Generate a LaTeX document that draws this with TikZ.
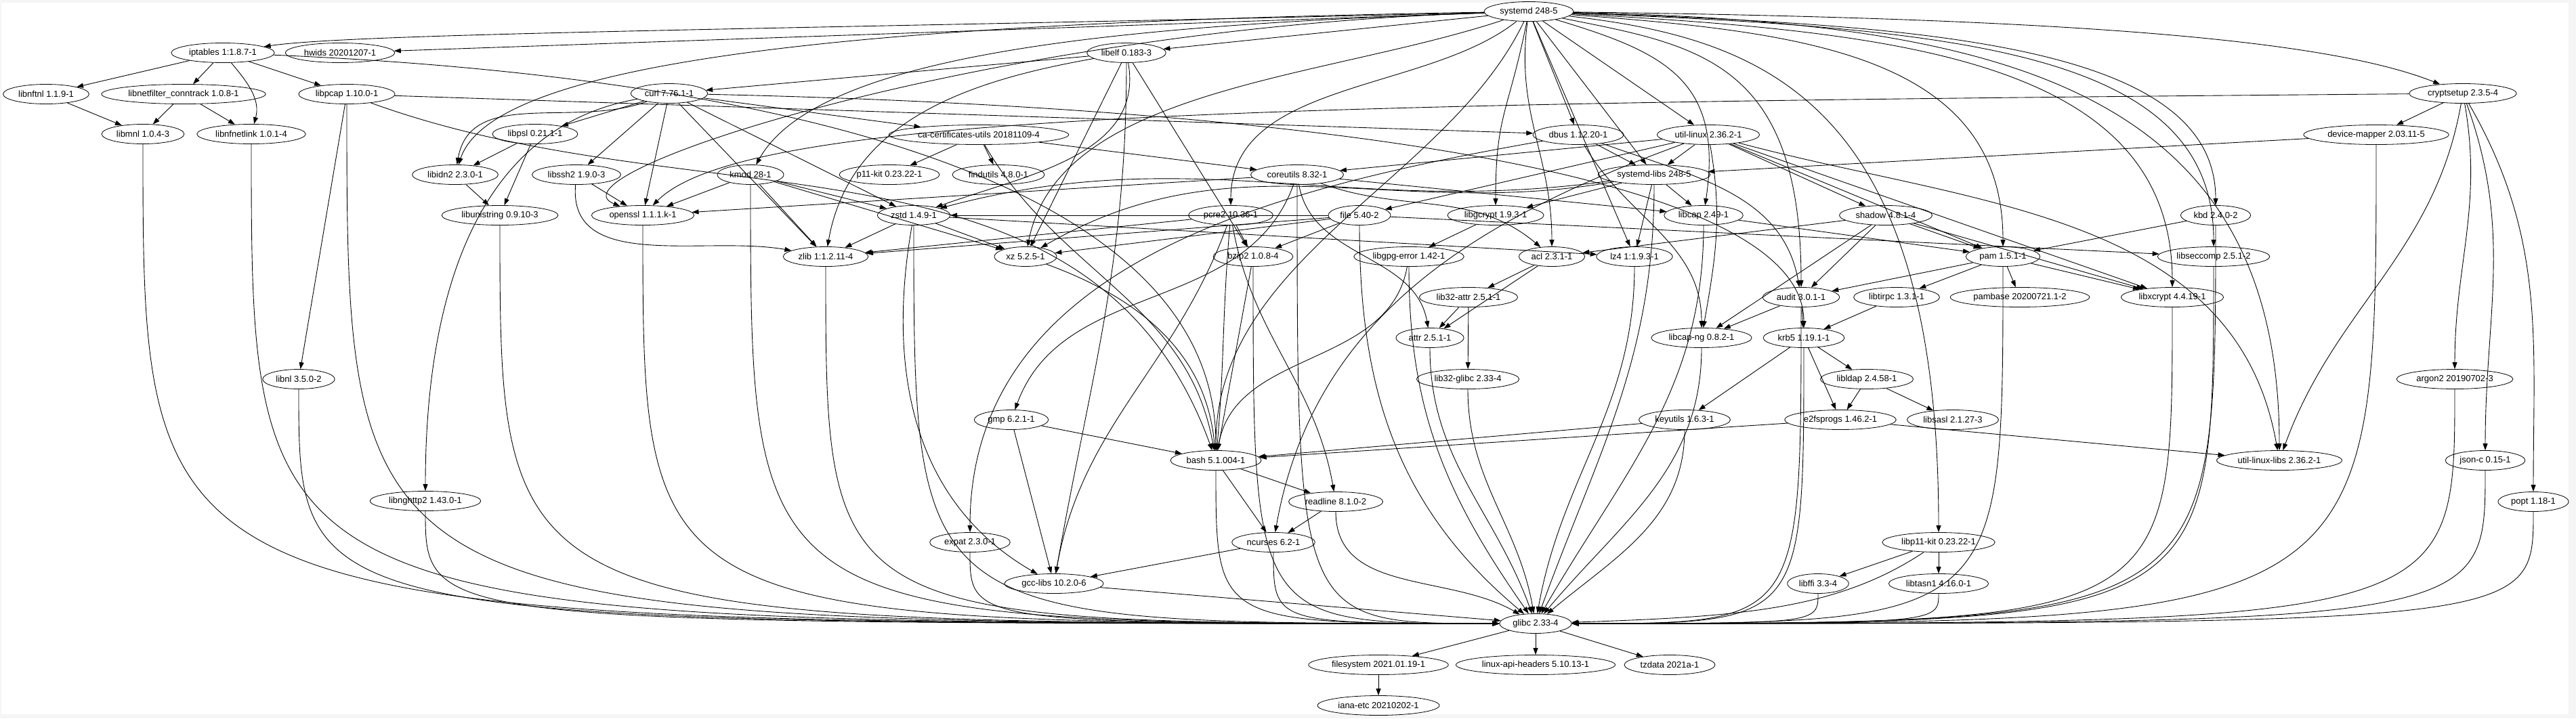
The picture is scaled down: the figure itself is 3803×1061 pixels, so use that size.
\documentclass[tikz,border=0pt]{standalone}
\usepackage{fontspec}
\setmainfont{Liberation Sans}
\usetikzlibrary{arrows.meta, shapes.geometric}
\newcommand{\pkgfont}{\fontsize{3.25}{4}\selectfont}
\tikzset{
  pkg/.style={ellipse, draw, line width=0.2pt, inner xsep=1pt, inner ysep=0.25pt,
    minimum height=7.25pt, font=\pkgfont},
  dep/.style={draw, line width=0.22pt, -{Triangle[length=2.5pt,width=1.75pt]}}
}
\begin{document}
\begin{tikzpicture}[x=0.25pt, y=0.25pt]
    \useasboundingbox (0,0) rectangle (3803,-1061);
    \fill[gray!8] (0,0) rectangle (3803,-1061);
    \fill[white] (2,-4) rectangle (3792,-1055);

    % packages, one row per rank
    \node[pkg] (systemd)      at (2257,-17)  {systemd 248-5};
    \node[pkg] (iptables)     at (329,-78)   {iptables 1:1.8.7-1};
    \node[pkg] (hwids)        at (502,-78)   {hwids 20201207-1};
    \node[pkg] (libelf)       at (1663,-78)  {libelf 0.183-3};
    \node[pkg] (libnftnl)     at (68,-139)   {libnftnl 1.1.9-1};
    \node[pkg] (libnetfilter) at (271,-139)  {libnetfilter\_conntrack 1.0.8-1};
    \node[pkg] (libpcap)      at (512,-139)  {libpcap 1.10.0-1};
    \node[pkg] (curl)         at (988,-138)  {curl 7.76.1-1};
    \node[pkg] (cryptsetup)   at (3636,-138) {cryptsetup 2.3.5-4};
    \node[pkg] (libmnl)       at (211,-198)  {libmnl 1.0.4-3};
    \node[pkg] (libnfnetlink) at (371,-198)  {libnfnetlink 1.0.1-4};
    \node[pkg] (libpsl)       at (790,-198)  {libpsl 0.21.1-1};
    \node[pkg] (cacerts)      at (1445,-199) {ca-certificates-utils 20181109-4};
    \node[pkg] (dbus)         at (2330,-199) {dbus 1.12.20-1};
    \node[pkg] (utillinux)    at (2522,-199) {util-linux 2.36.2-1};
    \node[pkg] (devmapper)    at (3508,-199) {device-mapper 2.03.11-5};
    \node[pkg] (libidn)       at (672,-258)  {libidn2 2.3.0-1};
    \node[pkg] (libssh)       at (851,-258)  {libssh2 1.9.0-3};
    \node[pkg] (kmod)         at (1108,-258) {kmod 28-1};
    \node[pkg] (pkit)         at (1313,-258) {p11-kit 0.23.22-1};
    \node[pkg] (findutils)    at (1474,-258) {findutils 4.8.0-1};
    \node[pkg] (coreutils)    at (1915,-258) {coreutils 8.32-1};
    \node[pkg] (sdlibs)       at (2442,-258) {systemd-libs 248-5};
    \node[pkg] (libunistring) at (738,-318)  {libunistring 0.9.10-3};
    \node[pkg] (openssl)      at (949,-318)  {openssl 1.1.1.k-1};
    \node[pkg] (zstd)         at (1349,-318) {zstd 1.4.9-1};
    \node[pkg] (pcre)         at (1817,-318) {pcre2 10.36-1};
    \node[pkg] (file)         at (2007,-318) {file 5.40-2};
    \node[pkg] (libgcrypt)    at (2208,-318) {libgcrypt 1.9.3-1};
    \node[pkg] (libcap)       at (2515,-318) {libcap 2.49-1};
    \node[pkg] (shadow)       at (2784,-318) {shadow 4.8.1-4};
    \node[pkg] (kbd)          at (3271,-318) {kbd 2.4.0-2};
    \node[pkg] (zlib)         at (1219,-379) {zlib 1:1.2.11-4};
    \node[pkg] (xz)           at (1514,-379) {xz 5.2.5-1};
    \node[pkg] (bzip)         at (1850,-379) {bzip2 1.0.8-4};
    \node[pkg] (gpgerror)     at (2080,-379) {libgpg-error 1.42-1};
    \node[pkg] (acl)          at (2291,-379) {acl 2.3.1-1};
    \node[pkg] (lz)           at (2413,-379) {lz4 1:1.9.3-1};
    \node[pkg] (pam)          at (2957,-379) {pam 1.5.1-1};
    \node[pkg] (libseccomp)   at (3268,-379) {libseccomp 2.5.1-2};
    \node[pkg] (libattr32)    at (2168,-439) {lib32-attr 2.5.1-1};
    \node[pkg] (audit)        at (2659,-439) {audit 3.0.1-1};
    \node[pkg] (libtirpc)     at (2800,-439) {libtirpc 1.3.1-1};
    \node[pkg] (pambase)      at (2982,-439) {pambase 20200721.1-2};
    \node[pkg] (libxcrypt)    at (3207,-439) {libxcrypt 4.4.19-1};
    \node[pkg] (attr)         at (2111,-499) {attr 2.5.1-1};
    \node[pkg] (libcapng)     at (2512,-499) {libcap-ng 0.8.2-1};
    \node[pkg] (krb)          at (2663,-499) {krb5 1.19.1-1};
    \node[pkg] (libnl)        at (441,-560)  {libnl 3.5.0-2};
    \node[pkg] (glibc32)      at (2167,-560) {lib32-glibc 2.33-4};
    \node[pkg] (libldap)      at (2756,-560) {libldap 2.4.58-1};
    \node[pkg] (argon)        at (3624,-560) {argon2 20190702-3};
    \node[pkg] (gmp)          at (1493,-620) {gmp 6.2.1-1};
    \node[pkg] (keyutils)     at (2487,-620) {keyutils 1.6.3-1};
    \node[pkg] (efsprogs)     at (2717,-620) {e2fsprogs 1.46.2-1};
    \node[pkg] (libsasl)      at (2883,-620) {libsasl 2.1.27-3};
    \node[pkg] (bash)         at (1795,-680) {bash 5.1.004-1};
    \node[pkg] (ullibs)       at (3365,-680) {util-linux-libs 2.36.2-1};
    \node[pkg] (jsonc)        at (3669,-680) {json-c 0.15-1};
    \node[pkg] (libnghttp)    at (628,-740)  {libnghttp2 1.43.0-1};
    \node[pkg] (readline)     at (1972,-741) {readline 8.1.0-2};
    \node[pkg] (popt)         at (3740,-741) {popt 1.18-1};
    \node[pkg] (expat)        at (1432,-801) {expat 2.3.0-1};
    \node[pkg] (ncurses)      at (1880,-801) {ncurses 6.2-1};
    \node[pkg] (libpkit)      at (2862,-801) {libp11-kit 0.23.22-1};
    \node[pkg] (gcclibs)      at (1556,-862) {gcc-libs 10.2.0-6};
    \node[pkg] (libffi)       at (2684,-862) {libffi 3.3-4};
    \node[pkg] (libtasn)      at (2862,-862) {libtasn1 4.16.0-1};
    \node[pkg] (glibc)        at (2267,-921) {glibc 2.33-4};
    \node[pkg] (filesystem)   at (2035,-982) {filesystem 2021.01.19-1};
    \node[pkg] (linuxapi)     at (2267,-982) {linux-api-headers 5.10.13-1};
    \node[pkg] (tzdata)       at (2465,-982) {tzdata 2021a-1};
    \node[pkg] (ianaetc)      at (2035,-1042) {iana-etc 20210202-1};

    % systemd
    \draw[dep] (systemd) .. controls +(-1000,-25) and +(200,30) .. (iptables);
    \draw[dep] (systemd) -- (hwids);
    \draw[dep] (systemd) -- (libelf);
    \draw[dep] (systemd) -- (dbus);
    \draw[dep] (systemd) -- (utillinux);
    \draw[dep] (systemd) -- (sdlibs);
    \draw[dep] (systemd) -- (lz);
    \draw[dep] (systemd) .. controls +(-20,-150) and +(0,150) .. (acl);
    \draw[dep] (systemd) .. controls +(-30,-150) and +(0,150) .. (libgcrypt);
    \draw[dep] (systemd) .. controls +(200,-60) and +(30,200) .. (libcap);
    \draw[dep] (systemd) .. controls +(250,-50) and +(0,350) .. (audit);
    \draw[dep] (systemd) .. controls +(800,-10) and +(-200,80) .. (cryptsetup);
    \draw[dep] (systemd) .. controls +(400,-30) and +(0,300) .. (pam);
    \draw[dep] (systemd) .. controls +(550,-30) and +(0,350) .. (libxcrypt);
    \draw[dep] (systemd) .. controls +(650,-25) and +(0,300) .. (libseccomp);
    \draw[dep] (systemd) .. controls +(600,-20) and +(0,250) .. (kbd);
    \draw[dep] (systemd) .. controls +(700,-15) and +(0,550) .. (ullibs);
    \draw[dep] (systemd) .. controls +(350,-40) and +(0,650) .. (libpkit);
    \draw[dep] (systemd) .. controls +(-600,-20) and +(100,180) .. (kmod);
    \draw[dep] (systemd) .. controls +(-900,-15) and +(60,180) .. (libidn);
    \draw[dep] (systemd) .. controls +(-800,-25) and +(-150,60) .. (openssl);
    \draw[dep] (systemd) .. controls +(-300,-100) and +(50,250) .. (xz);
    \draw[dep] (systemd) .. controls +(-150,-120) and +(0,200) .. (pcre);
    \draw[dep] (systemd) .. controls +(-120,-250) and +(0,300) .. (bash);

    % iptables and netfilter
    \draw[dep] (iptables) -- (libnftnl);
    \draw[dep] (iptables) -- (libnetfilter);
    \draw[dep] (iptables) to[out=-50,in=75] (libnfnetlink);
    \draw[dep] (iptables) -- (libpcap);
    \draw[dep] (iptables) .. controls +(700,-30) and +(0,450) .. (bash);
    \draw[dep] (libnftnl) -- (libmnl);
    \draw[dep] (libnetfilter) -- (libmnl);
    \draw[dep] (libnetfilter) -- (libnfnetlink);
    \draw[dep] (libpcap) -- (libnl);
    \draw[dep] (libpcap) -- (dbus);
    \draw[dep] (libpcap) to[out=-20,in=110] (bash);

    % libelf
    \draw[dep] (libelf) -- (curl);
    \draw[dep] (libelf) to[out=190,in=80] (zlib);
    \draw[dep] (libelf) -- (xz);
    \draw[dep] (libelf) to[out=-80,in=20] (zstd);
    \draw[dep] (libelf) -- (bzip);
    \draw[dep] (libelf) to[out=-90,in=80] (gcclibs);

    % cryptsetup
    \draw[dep] (cryptsetup) -- (devmapper);
    \draw[dep] (cryptsetup) .. controls +(-1800,-15) and +(150,150) .. (openssl);
    \draw[dep] (cryptsetup) to[out=-100,in=70] (ullibs);
    \draw[dep] (cryptsetup) to[out=-80,in=90] (argon);
    \draw[dep] (cryptsetup) to[out=-70,in=90] (jsonc);
    \draw[dep] (cryptsetup) to[out=-60,in=90] (popt);
    \draw[dep] (devmapper) -- (sdlibs);

    % curl
    \draw[dep] (curl) -- (cacerts);
    \draw[dep] (curl) -- (libpsl);
    \draw[dep] (curl) -- (libssh);
    \draw[dep] (curl) to[out=200,in=80] (libidn);
    \draw[dep] (curl) -- (openssl);
    \draw[dep] (curl) -- (zstd);
    \draw[dep] (curl) -- (zlib);
    \draw[dep] (curl) to[out=190,in=90] (libnghttp);
    \draw[dep] (curl) .. controls +(900,-20) and +(0,250) .. (krb);

    % dbus and util-linux
    \draw[dep] (dbus) -- (sdlibs);
    \draw[dep] (dbus) to[out=-20,in=100] (audit);
    \draw[dep] (dbus) to[out=190,in=90] (expat);
    \draw[dep] (dbus) to[out=-60,in=90] (libcapng);
    \draw[dep] (utillinux) -- (coreutils);
    \draw[dep] (utillinux) -- (file);
    \draw[dep] (utillinux) -- (sdlibs);
    \draw[dep] (utillinux) to[out=-80,in=80] (libcapng);
    \draw[dep] (utillinux) -- (shadow);
    \draw[dep] (utillinux) -- (pam);
    \draw[dep] (utillinux) -- (libxcrypt);
    \draw[dep] (utillinux) to[out=-15,in=100] (ullibs);
    \draw[dep] (utillinux) to[out=200,in=80] (ncurses);

    % curl side libraries
    \draw[dep] (libpsl) -- (libidn);
    \draw[dep] (libpsl) -- (libunistring);
    \draw[dep] (libidn) -- (libunistring);
    \draw[dep] (libssh) -- (openssl);
    \draw[dep] (libssh) to[out=-95,in=170] (zlib);
    \draw[dep] (kmod) -- (openssl);
    \draw[dep] (kmod) -- (zlib);
    \draw[dep] (kmod) -- (zstd);
    \draw[dep] (kmod) -- (xz);
    \draw[dep] (cacerts) -- (pkit);
    \draw[dep] (cacerts) -- (findutils);
    \draw[dep] (cacerts) -- (coreutils);
    \draw[dep] (cacerts) to[out=-60,in=100] (bash);

    % coreutils and systemd-libs
    \draw[dep] (coreutils) -- (openssl);
    \draw[dep] (coreutils) to[out=-110,in=70] (gmp);
    \draw[dep] (coreutils) to[out=-20,in=140] (acl);
    \draw[dep] (coreutils) to[out=-80,in=100] (attr);
    \draw[dep] (coreutils) -- (libcap);
    \draw[dep] (sdlibs) -- (libgcrypt);
    \draw[dep] (sdlibs) -- (libcap);
    \draw[dep] (sdlibs) -- (lz);
    \draw[dep] (sdlibs) to[out=190,in=30] (xz);
    \draw[dep] (sdlibs) to[out=188,in=15] (zstd);

    % compression and friends
    \draw[dep] (zstd) -- (zlib);
    \draw[dep] (zstd) -- (xz);
    \draw[dep] (zstd) -- (lz);
    \draw[dep] (zstd) to[out=-100,in=150] (gcclibs);
    \draw[dep] (pcre) -- (bzip);
    \draw[dep] (pcre) -- (zlib);
    \draw[dep] (pcre) to[out=-80,in=100] (readline);
    \draw[dep] (pcre) to[out=-110,in=80] (gcclibs);
    \draw[dep] (pcre) to[out=-95,in=85] (bash);
    \draw[dep] (file) -- (bzip);
    \draw[dep] (file) -- (xz);
    \draw[dep] (file) -- (zlib);
    \draw[dep] (file) -- (zstd);
    \draw[dep] (file) -- (libseccomp);
    \draw[dep] (libgcrypt) -- (gpgerror);
    \draw[dep] (xz) to[out=-20,in=95] (bash);
    \draw[dep] (bzip) -- (bash);
    \draw[dep] (gpgerror) to[out=-100,in=80] (bash);

    % pam, shadow, audit
    \draw[dep] (libcap) -- (pam);
    \draw[dep] (shadow) -- (acl);
    \draw[dep] (shadow) -- (pam);
    \draw[dep] (shadow) -- (audit);
    \draw[dep] (shadow) -- (libxcrypt);
    \draw[dep] (shadow) -- (libcapng);
    \draw[dep] (kbd) -- (pam);
    \draw[dep] (pam) -- (libtirpc);
    \draw[dep] (pam) -- (pambase);
    \draw[dep] (pam) -- (libxcrypt);
    \draw[dep] (pam) -- (audit);
    \draw[dep] (acl) -- (attr);
    \draw[dep] (acl) -- (libattr32);
    \draw[dep] (libattr32) -- (attr);
    \draw[dep] (libattr32) -- (glibc32);
    \draw[dep] (libtirpc) -- (krb);
    \draw[dep] (audit) -- (krb);
    \draw[dep] (audit) -- (libcapng);

    % krb5 and below
    \draw[dep] (krb) -- (keyutils);
    \draw[dep] (krb) -- (efsprogs);
    \draw[dep] (krb) -- (libldap);
    \draw[dep] (libldap) -- (efsprogs);
    \draw[dep] (libldap) -- (libsasl);
    \draw[dep] (keyutils) -- (bash);
    \draw[dep] (efsprogs) -- (bash);
    \draw[dep] (efsprogs) -- (ullibs);
    \draw[dep] (gmp) -- (bash);
    \draw[dep] (gmp) -- (gcclibs);
    \draw[dep] (bash) -- (readline);
    \draw[dep] (bash) -- (ncurses);
    \draw[dep] (readline) -- (ncurses);
    \draw[dep] (ncurses) -- (gcclibs);
    \draw[dep] (libpkit) -- (libffi);
    \draw[dep] (libpkit) -- (libtasn);

    % everything ends in glibc
    \draw[dep] (libmnl) .. controls (libmnl |- glibc) .. (glibc);
    \draw[dep] (libnfnetlink) .. controls (libnfnetlink |- glibc) .. (glibc);
    \draw[dep] (libpcap) .. controls (libpcap |- glibc) .. (glibc);
    \draw[dep] (libnl) .. controls (libnl |- glibc) .. (glibc);
    \draw[dep] (libunistring) .. controls (libunistring |- glibc) .. (glibc);
    \draw[dep] (openssl) .. controls (openssl |- glibc) .. (glibc);
    \draw[dep] (libnghttp) .. controls (libnghttp |- glibc) .. (glibc);
    \draw[dep] (kmod) .. controls (kmod |- glibc) .. (glibc);
    \draw[dep] (zlib) .. controls (zlib |- glibc) .. (glibc);
    \draw[dep] (zstd) .. controls (zstd |- glibc) .. (glibc);
    \draw[dep] (expat) .. controls (expat |- glibc) .. (glibc);
    \draw[dep] (coreutils) .. controls (coreutils |- glibc) .. (glibc);
    \draw[dep] (bzip) .. controls (bzip |- glibc) .. (glibc);
    \draw[dep] (bash) .. controls (bash |- glibc) .. (glibc);
    \draw[dep] (ncurses) .. controls (ncurses |- glibc) .. (glibc);
    \draw[dep] (readline) to[out=-90,in=150] (glibc);
    \draw[dep] (file) to[out=-90,in=140] (glibc);
    \draw[dep] (gpgerror) to[out=-90,in=125] (glibc);
    \draw[dep] (attr) to[out=-90,in=110] (glibc);
    \draw[dep] (glibc32) to[out=-90,in=100] (glibc);
    \draw[dep] (gcclibs) -- (glibc);
    \draw[dep] (lz) to[out=-90,in=80] (glibc);
    \draw[dep] (sdlibs) to[out=-90,in=70] (glibc);
    \draw[dep] (libcap) to[out=-90,in=60] (glibc);
    \draw[dep] (libcapng) to[out=-90,in=50] (glibc);
    \draw[dep] (keyutils) to[out=-90,in=40] (glibc);
    \draw[dep] (krb) .. controls (krb |- glibc) .. (glibc);
    \draw[dep] (audit) .. controls (audit |- glibc) .. (glibc);
    \draw[dep] (libffi) .. controls (libffi |- glibc) .. (glibc);
    \draw[dep] (libtasn) .. controls (libtasn |- glibc) .. (glibc);
    \draw[dep] (libpkit) .. controls +(-150,-100) and +(300,10) .. (glibc);
    \draw[dep] (pam) .. controls (pam |- glibc) .. (glibc);
    \draw[dep] (libxcrypt) .. controls (libxcrypt |- glibc) .. (glibc);
    \draw[dep] (kbd) .. controls (kbd |- glibc) .. (glibc);
    \draw[dep] (libseccomp) .. controls (libseccomp |- glibc) .. (glibc);
    \draw[dep] (devmapper) .. controls (devmapper |- glibc) .. (glibc);
    \draw[dep] (argon) .. controls (argon |- glibc) .. (glibc);
    \draw[dep] (jsonc) .. controls (jsonc |- glibc) .. (glibc);
    \draw[dep] (popt) .. controls (popt |- glibc) .. (glibc);

    % glibc itself
    \draw[dep] (glibc) -- (filesystem);
    \draw[dep] (glibc) -- (linuxapi);
    \draw[dep] (glibc) -- (tzdata);
    \draw[dep] (filesystem) -- (ianaetc);
\end{tikzpicture}
\end{document}
